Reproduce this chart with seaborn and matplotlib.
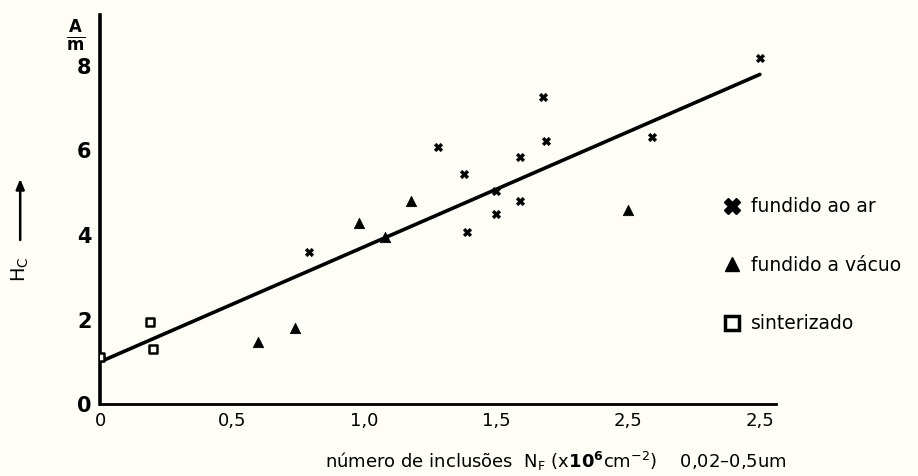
import matplotlib
matplotlib.use("Agg")
import matplotlib.pyplot as plt
import seaborn as sns
import pandas as pd
from matplotlib.lines import Line2D

# ---- data ----
ar_x = [0.79, 1.28, 1.38, 1.39, 1.50, 1.50, 1.59, 1.59, 1.68, 1.69, 2.09, 2.50]
ar_y = [3.60, 6.08, 5.44, 4.07, 5.04, 4.50, 5.85, 4.80, 7.27, 6.22, 6.32, 8.20]
vac_x = [0.60, 0.74, 0.98, 1.08, 1.18, 2.00]
vac_y = [1.47, 1.80, 4.28, 3.95, 4.80, 4.60]
sint_x = [0.00, 0.19, 0.20]
sint_y = [1.11, 1.94, 1.30]
fit_x = [0.0, 2.5]
fit_y = [1.0, 7.8]

x_ticks = [0, 0.5, 1.0, 1.5, 2.0, 2.5]
x_ticklabels = ["0", "0,5", "1,0", "1,5", "2,5", "2,5"]
y_ticks = [0, 2, 4, 6, 8]
y_ticklabels = ["0", "2", "4", "6", "8"]
legend_labels = ["fundido ao ar", "fundido a vácuo", "sinterizado"]

sns.set_style("white")
plt.rcParams["font.family"] = ["DejaVu Sans"]
plt.rcParams["text.color"] = "black"

bg = "#fefef6"
fig = plt.figure(figsize=(9.18, 4.76), dpi=100, facecolor=bg)
ax = fig.add_axes([0.109, 0.151, 0.736, 0.817], facecolor=bg)

df_ar = pd.DataFrame({"x": ar_x, "y": ar_y})
df_vac = pd.DataFrame({"x": vac_x, "y": vac_y})
df_sint = pd.DataFrame({"x": sint_x, "y": sint_y})
df_fit = pd.DataFrame({"x": fit_x, "y": fit_y})

sns.lineplot(data=df_fit, x="x", y="y", ax=ax, color="black", lw=2.6, zorder=2)
sns.scatterplot(data=df_ar, x="x", y="y", ax=ax, marker="X", s=38, color="black",
                edgecolor="black", linewidth=0.3, zorder=3)
sns.scatterplot(data=df_vac, x="x", y="y", ax=ax, marker="^", s=55, color="black",
                edgecolor="black", zorder=3)
sns.scatterplot(data=df_sint, x="x", y="y", ax=ax, marker="s", s=40, facecolor=bg,
                edgecolor="black", linewidth=1.8, zorder=3)

ax.set_xlim(0, 2.56)
ax.set_ylim(0, 9.2)
ax.set_xticks(x_ticks)
ax.set_xticklabels(x_ticklabels, fontsize=13, color="black")
ax.set_yticks(y_ticks)
ax.set_yticklabels(y_ticklabels, fontsize=15, fontweight="bold", color="black")
ax.tick_params(axis="x", direction="in", length=5, width=1.5, pad=6, colors="black")
ax.tick_params(axis="y", direction="out", length=4, width=1.5, pad=2, colors="black")
ax.set_xlabel("")
ax.set_ylabel("")
for s in ["top", "right"]:
    ax.spines[s].set_visible(False)
for s in ["left", "bottom"]:
    ax.spines[s].set_color("black")
ax.spines["left"].set_linewidth(2.6)
ax.spines["bottom"].set_linewidth(2.0)

# unit at the top of the y axis
fig.text(0.082, 0.925, r"$\mathbf{\frac{A}{m}}$", fontsize=17, ha="center", va="center")

# H_C label with arrow
fig.text(0.022, 0.435, r"H$_\mathregular{C}$", rotation=90, fontsize=14,
         ha="center", va="center")
fig.add_artist(matplotlib.patches.FancyArrowPatch(
    (0.022, 0.49), (0.022, 0.63), transform=fig.transFigure,
    arrowstyle="-|>,head_length=6,head_width=2.5", lw=1.8, color="black"))

# x label
fig.text(0.605, 0.03,
         r"número de inclusões  N$_\mathregular{F}$ (x$\mathbf{10^{6}}$cm$^{-2}$)    0,02–0,5um",
         fontsize=13, ha="center", va="center")

handles = [
    Line2D([], [], ls="none", marker="X", color="black", markersize=11),
    Line2D([], [], ls="none", marker="^", color="black", markersize=10),
    Line2D([], [], ls="none", marker="s", markerfacecolor=bg, markeredgecolor="black",
           markeredgewidth=2.5, markersize=10),
]
leg = ax.legend(handles, legend_labels, loc="center left", bbox_to_anchor=(0.91, 0.357),
                frameon=False, fontsize=13.5, labelspacing=2.1, handletextpad=0.5,
                handlelength=1.0, borderaxespad=0, labelcolor="black")

fig.savefig("out.png", dpi=100, facecolor=bg)
